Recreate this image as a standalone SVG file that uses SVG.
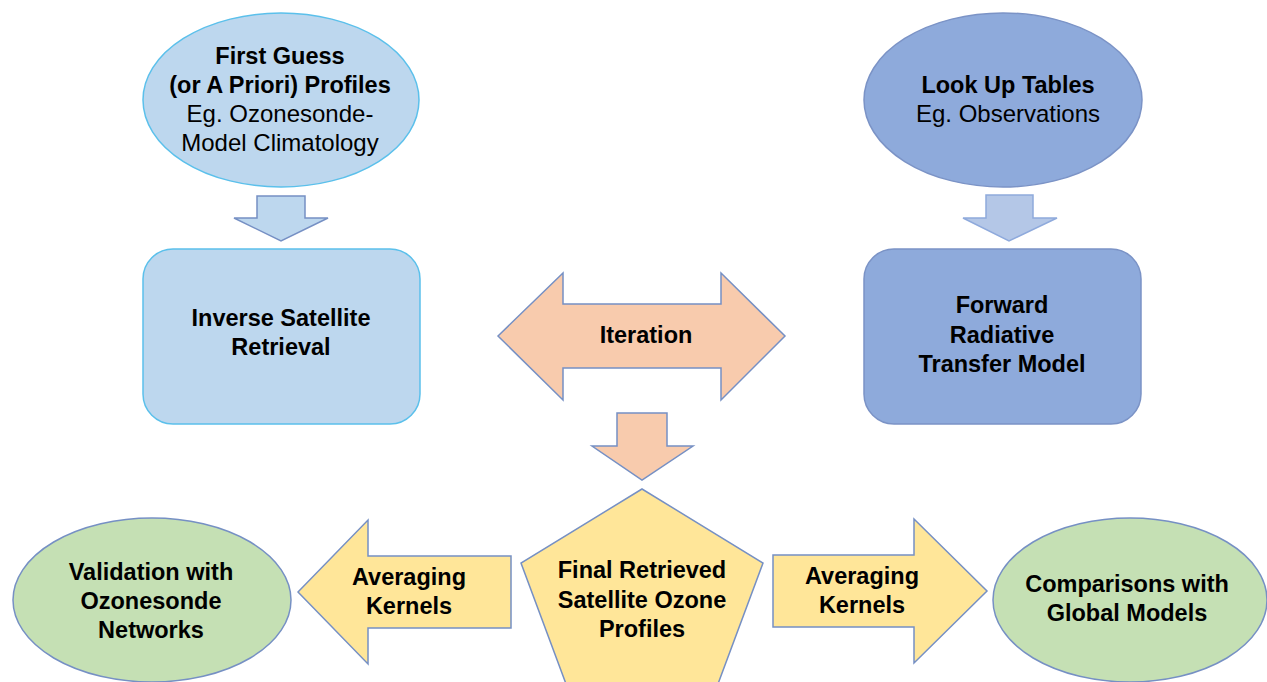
<svg xmlns="http://www.w3.org/2000/svg" width="1267" height="682" viewBox="0 0 1267 682">
<style>
text{font-family:"Liberation Sans",Arial,sans-serif;font-size:23.5px;fill:#000;text-anchor:middle}
.b{font-weight:bold}
.r{font-size:24px}
.lb{fill:#bdd7ee;stroke:#5bc0eb;stroke-width:1.5}
.mb{fill:#8eaadb;stroke:#7b93c6;stroke-width:1.5}
.or{fill:#f8cbad;stroke:#7690c4;stroke-width:1.5}
.ye{fill:#ffe699;stroke:#7690c4;stroke-width:1.5}
.gr{fill:#c5e0b4;stroke:#7690c4;stroke-width:1.5}
.a1{fill:#bdd7ee;stroke:#7690c4;stroke-width:1.5}
.a2{fill:#b4c7e7;stroke:#8faadc;stroke-width:1.5}
</style>
<rect width="1267" height="682" fill="#fff"/>
<g id="connectors">
<polygon class="a1" points="257,196 305,196 305,218 328,218 281,241 234,218 257,218"/>
<polygon class="a2" points="986,195 1033,195 1033,218 1057,218 1009,241 963,218 986,218"/>
<polygon class="or" points="617,413 667,413 667,446 693,446 642,480 592,446 617,446"/>
</g>
<g id="first-guess">
<ellipse class="lb" cx="281" cy="100" rx="138" ry="87"/>
<text class="b" x="280" y="64">First Guess</text>
<text class="b" x="280" y="93">(or A Priori) Profiles</text>
<text class="r" x="280" y="122">Eg. Ozonesonde-</text>
<text class="r" x="280" y="151">Model Climatology</text>
</g>
<g id="look-up-tables">
<ellipse class="mb" cx="1003" cy="100" rx="139" ry="87"/>
<text class="b" x="1008" y="93">Look Up Tables</text>
<text class="r" x="1008" y="122">Eg. Observations</text>
</g>
<g id="inverse-retrieval">
<rect class="lb" x="143" y="249" width="277" height="175" rx="30"/>
<text class="b" x="281" y="326">Inverse Satellite</text>
<text class="b" x="281" y="355">Retrieval</text>
</g>
<g id="forward-model">
<rect class="mb" x="864" y="249" width="277" height="175" rx="30"/>
<text class="b" x="1002" y="313">Forward</text>
<text class="b" x="1002" y="343">Radiative</text>
<text class="b" x="1002" y="372">Transfer Model</text>
</g>
<g id="iteration">
<polygon class="or" points="498,336 563,273 563,304 721,304 721,273 785,336 721,400 721,368 563,368 563,400"/>
<text class="b" x="646" y="343">Iteration</text>
</g>
<g id="final-profiles">
<polygon class="ye" points="642,489 763,563 712,700 572,700 521,563"/>
<text class="b" x="642" y="578">Final Retrieved</text>
<text class="b" x="642" y="608">Satellite Ozone</text>
<text class="b" x="642" y="637">Profiles</text>
</g>
<g id="ak-left">
<polygon class="ye" points="298,592 368,520 368,556 511,556 511,628 368,628 368,664"/>
<text class="b" x="409" y="585">Averaging</text>
<text class="b" x="409" y="614">Kernels</text>
</g>
<g id="ak-right">
<polygon class="ye" points="773,555 914,555 914,519 987,591 914,663 914,627 773,627"/>
<text class="b" x="862" y="584">Averaging</text>
<text class="b" x="862" y="613">Kernels</text>
</g>
<g id="validation">
<ellipse class="gr" cx="152" cy="600" rx="139" ry="82"/>
<text class="b" x="151" y="580">Validation with</text>
<text class="b" x="151" y="609">Ozonesonde</text>
<text class="b" x="151" y="638">Networks</text>
</g>
<g id="comparisons">
<ellipse class="gr" cx="1130" cy="600" rx="137" ry="82"/>
<text class="b" x="1127" y="592">Comparisons with</text>
<text class="b" x="1127" y="621">Global Models</text>
</g>
</svg>
